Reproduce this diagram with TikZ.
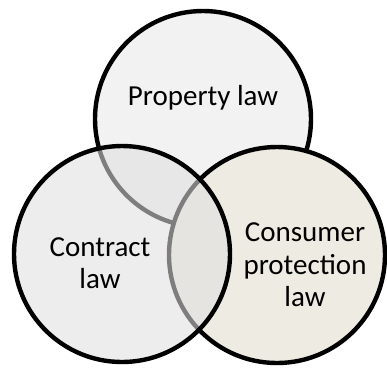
\documentclass[tikz,border=0pt]{standalone}
\usepackage{fontspec}
\setmainfont{Carlito}
\usepackage{tikz}
\usetikzlibrary{positioning}
\definecolor{propfill}{RGB}{242,242,242}
\definecolor{consfill}{RGB}{238,236,226}
\definecolor{contfill}{RGB}{223,223,223}

\begin{document}
\begin{tikzpicture}[x=1pt, y=-1pt,
  venn/.style={draw=black, circle, line width=4.4pt, minimum size=216pt,
               inner sep=0pt},
  lbl/.style={font=\fontsize{29}{32.5}\selectfont, align=center, text=black},
]
\useasboundingbox (0,0) rectangle (387,368);

% Circles: top and right opaque, left see-through
\node[venn, fill=propfill] (prop) at (203,119) {};
\node[venn, fill=consfill] (cons) at (277,255) {};
\node[venn, fill=contfill, fill opacity=0.57] (cont) at (122,254) {};

% Labels
\node[lbl] (proplbl) at (203,98) {Property law};
\node[lbl] (contlbl) at (100,263) {Contract\\law};
\node[lbl] (conslbl) at (305,265) {Consumer\\protection\\law};
\end{tikzpicture}
\end{document}
